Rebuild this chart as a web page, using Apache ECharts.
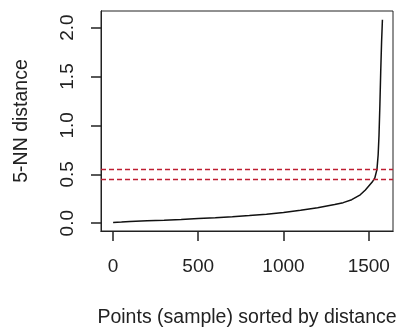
<!DOCTYPE html>
<html>
<head>
<meta charset="utf-8">
<script src="https://cdn.jsdelivr.net/npm/echarts@6/dist/echarts.min.js"></script>
<style>
  html, body { margin: 0; padding: 0; background: #fff; }
  #chart { width: 400px; height: 329px; }
</style>
</head>
<body>
<div id="chart"></div>
<script>
// sorted 5-NN distances
const pointIndex = [1, 50, 100, 200, 300, 400, 500, 600, 700, 800, 900, 1000, 1100, 1200, 1300, 1350, 1400, 1450, 1480, 1500, 1520, 1535, 1548, 1555, 1560, 1565, 1570, 1575, 1580];
const knnDist = [0.008, 0.012, 0.018, 0.024, 0.03, 0.038, 0.047, 0.056, 0.066, 0.078, 0.092, 0.11, 0.132, 0.158, 0.19, 0.21, 0.24, 0.29, 0.34, 0.38, 0.42, 0.46, 0.55, 0.7, 0.9, 1.2, 1.55, 1.85, 2.08];
const cutoffs = [0.45, 0.55];
const xTicks = [0, 500, 1000, 1500];
const yTicks = [0, 0.5, 1, 1.5, 2];

const chart = echarts.init(document.getElementById('chart'));

const font = 'Liberation Sans, Arial, sans-serif';
const ink = '#222';
const cutColor = 'rgb(190, 30, 50)';
const xRange = { min: -70, max: 1642 };
const yRange = { min: -0.08, max: 2.17 };

// plain axes that only carry the outside tick marks
const tickAxis = (range, ticks, position) => ({
  type: 'value',
  position,
  min: range.min, max: range.max,
  axisLine: { show: true, onZero: false, lineStyle: { color: ink, width: 1 } },
  axisTick: { show: true, length: 10, customValues: ticks, lineStyle: { color: ink, width: 1.5 } },
  axisLabel: { show: false },
  splitLine: { show: false }
});

chart.setOption({
  animation: false,
  grid: {
    left: 101, top: 11, right: 7, bottom: 98,
    outerBoundsMode: 'none',
    show: true, borderColor: ink, borderWidth: 1
  },
  xAxis: [{
    type: 'value',
    position: 'bottom',
    min: xRange.min, max: xRange.max,
    name: 'Points (sample) sorted by distance',
    nameLocation: 'middle',
    nameGap: 77,
    nameTextStyle: { color: ink, fontSize: 19.5, fontFamily: font },
    axisLine: { show: true, onZero: false, lineStyle: { color: ink, width: 1 } },
    splitLine: { show: false },
    axisTick: { show: true, length: 10, customValues: xTicks, lineStyle: { color: ink, width: 1.5 } },
    axisLabel: {
      customValues: xTicks, margin: 26,
      color: ink, fontSize: 19, fontFamily: font,
      formatter: v => String(v)
    }
  }, tickAxis(xRange, xTicks, 'bottom')],
  yAxis: [{
    type: 'value',
    position: 'left',
    min: yRange.min, max: yRange.max,
    name: '5-NN distance',
    nameLocation: 'middle',
    nameRotate: 90,
    nameGap: 69,
    nameTextStyle: { color: ink, fontSize: 19.5, fontFamily: font },
    axisLine: { show: true, onZero: false, lineStyle: { color: ink, width: 1 } },
    splitLine: { show: false },
    axisTick: { show: true, length: 10, customValues: yTicks, lineStyle: { color: ink, width: 1.5 } },
    axisLabel: {
      customValues: yTicks, rotate: 90, margin: 24,
      color: ink, fontSize: 19, fontFamily: font,
      formatter: v => v.toFixed(1)
    }
  }, tickAxis(yRange, yTicks, 'left')],
  series: [{
    type: 'line',
    xAxisIndex: 0,
    yAxisIndex: 0,
    data: pointIndex.map((x, i) => [x, knnDist[i]]),
    showSymbol: false,
    lineStyle: { color: '#111', width: 1.5 },
    itemStyle: { color: '#111' },
    markLine: {
      silent: true,
      symbol: 'none',
      label: { show: false },
      itemStyle: { color: cutColor },
      lineStyle: { color: cutColor, type: [5, 3], width: 1.4 },
      data: cutoffs.map(v => ({ yAxis: v, lineStyle: { color: cutColor } }))
    }
  }]
});
</script>
</body>
</html>
